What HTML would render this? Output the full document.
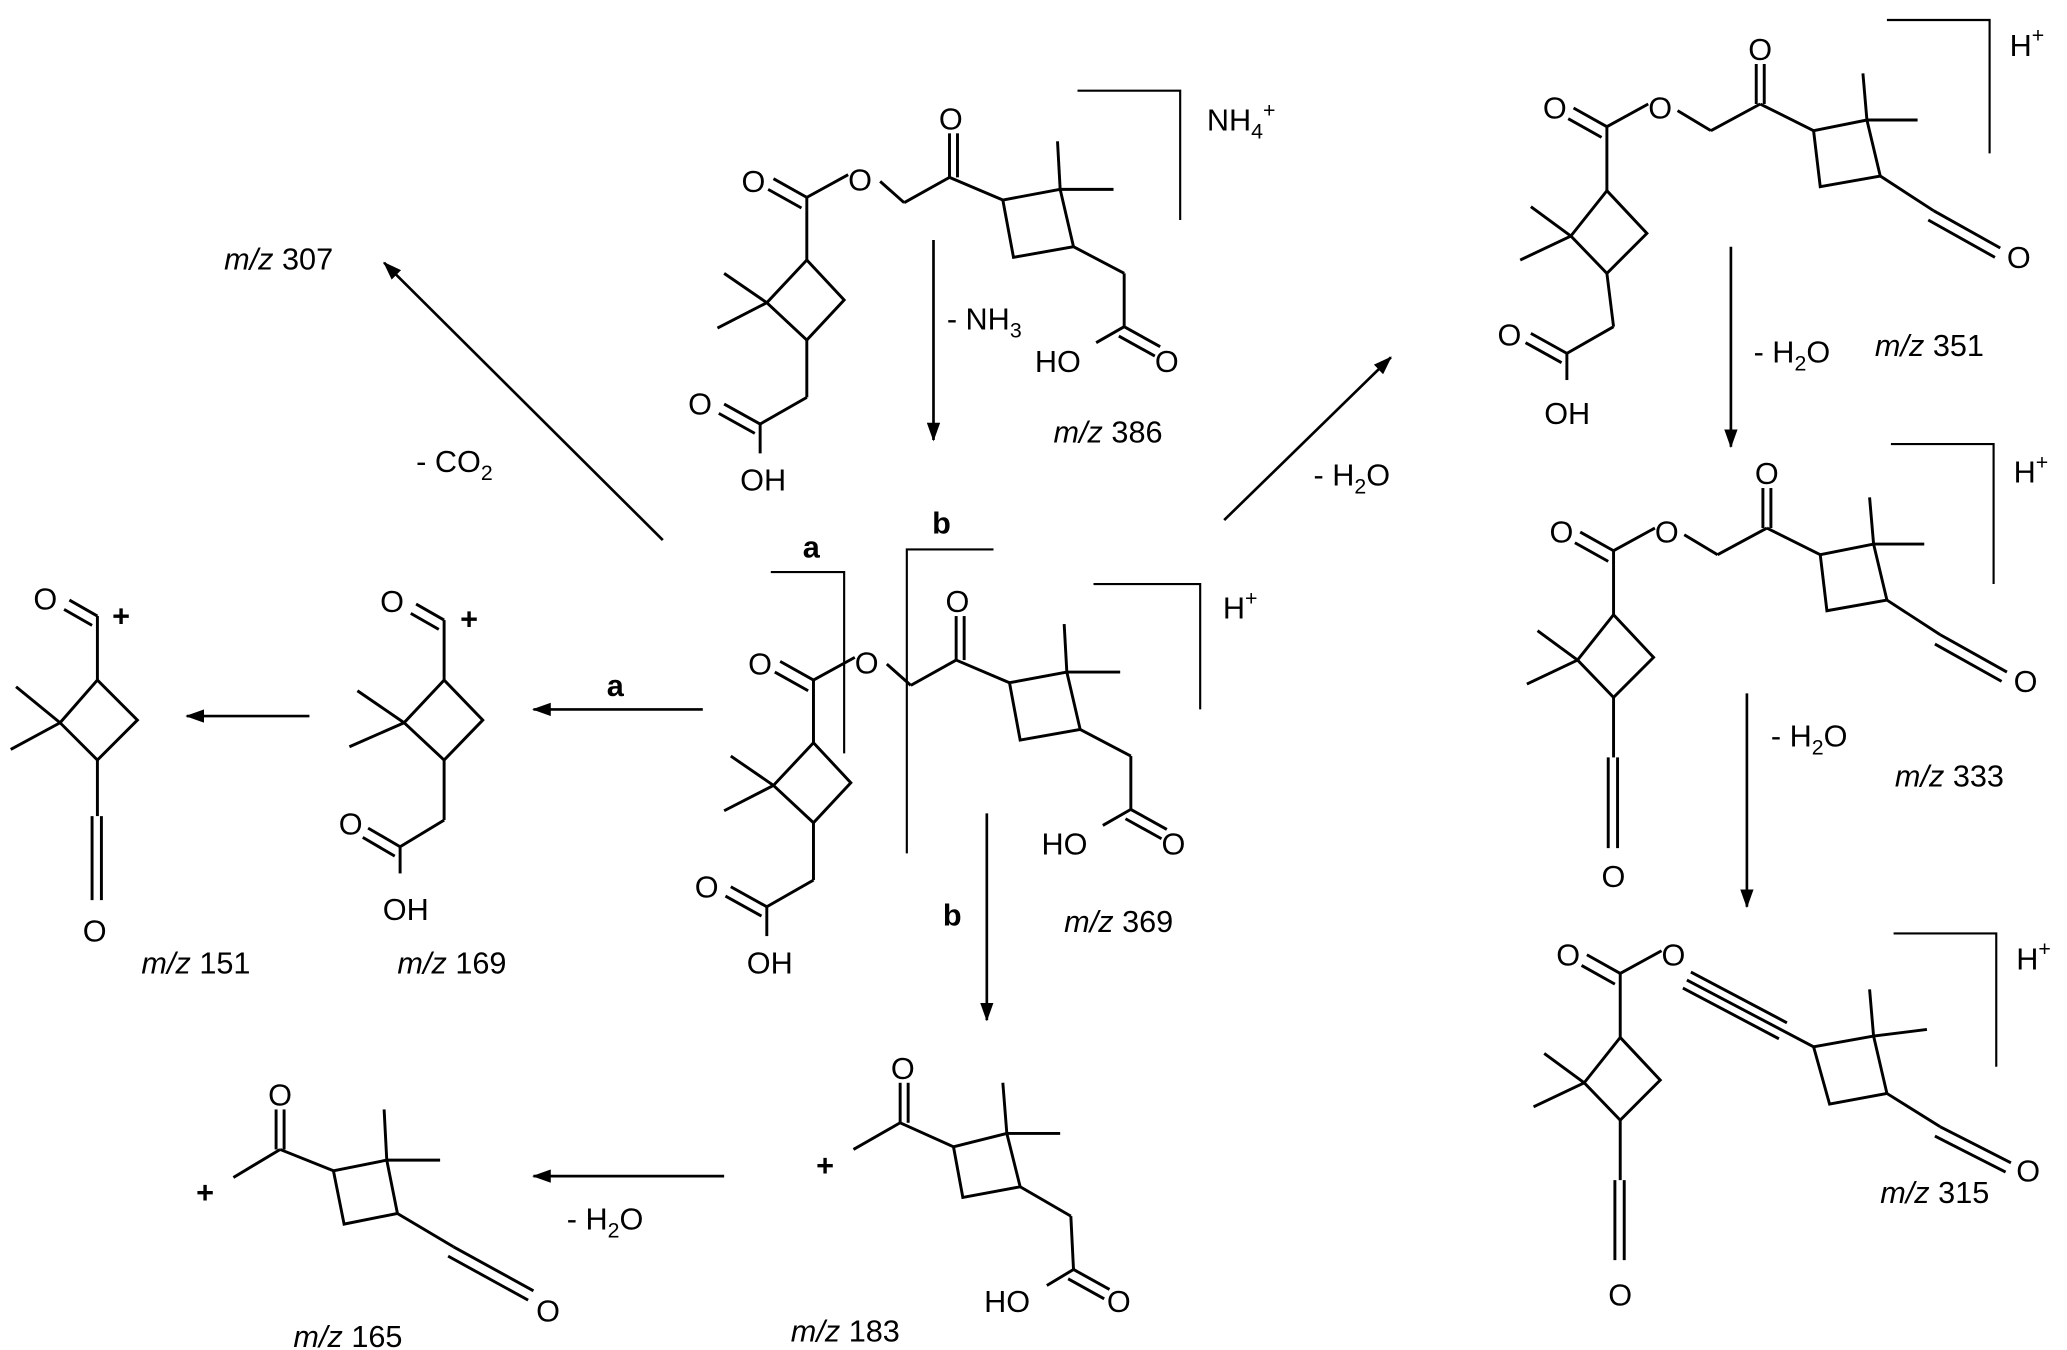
<!DOCTYPE html>
<html><head><meta charset="utf-8"><style>
html,body{margin:0;padding:0;background:#fff;}
svg{display:block;}
text{font-family:"Liberation Sans",Arial,sans-serif;font-size:23px;fill:#000;}
.b{font-weight:bold;}
</style></head><body>
<svg width="2067" height="1350" viewBox="0 0 1550 1012.4" xmlns="http://www.w3.org/2000/svg">
<defs>
<marker id="ar" markerWidth="14" markerHeight="10" refX="13" refY="5" orient="auto" markerUnits="userSpaceOnUse">
<path d="M0,0 L14,5 L0,10 z" fill="#000"/></marker>
<g id="mol" stroke="#000" stroke-width="2.2" fill="none">
<line x1="605" y1="148" x2="580" y2="134"/><line x1="601" y1="156" x2="576" y2="142"/>
<line x1="605" y1="148" x2="636" y2="131"/>
<line x1="660" y1="136" x2="678" y2="152"/><line x1="678" y1="152" x2="712" y2="133"/>
<line x1="712" y1="133" x2="712" y2="100"/><line x1="718" y1="133" x2="718" y2="100"/>
<line x1="712" y1="133" x2="752" y2="150"/>
<polygon points="752,150 795,142 805,185 760,193"/>
<line x1="795" y1="142" x2="793" y2="106"/><line x1="795" y1="142" x2="835" y2="142"/>
<line x1="805" y1="185" x2="843" y2="205"/><line x1="843" y1="205" x2="843" y2="245"/>
<line x1="843" y1="245" x2="870" y2="260"/><line x1="839" y1="252" x2="866" y2="267"/>
<line x1="843" y1="245" x2="822" y2="257"/>
<line x1="605" y1="148" x2="605" y2="195"/>
<polygon points="605,195 633,225 605,255 575,227"/>
<line x1="575" y1="227" x2="543" y2="205"/><line x1="575" y1="227" x2="538" y2="246"/>
<line x1="605" y1="255" x2="605" y2="298"/><line x1="605" y1="298" x2="570" y2="318"/>
<line x1="570" y1="318" x2="543" y2="303"/><line x1="566" y1="325" x2="539" y2="310"/>
<line x1="570" y1="318" x2="570" y2="340"/>
</g>
<g id="moltext">
<text x="556" y="144">O</text><text x="636" y="143">O</text><text x="704" y="97">O</text>
<text x="776" y="279">HO</text><text x="866" y="279">O</text>
<text x="516" y="311">O</text><text x="555" y="368">OH</text>
</g>
</defs>

<use href="#mol"/><use href="#moltext"/>
<polyline points="808,68 885,68 885,165" fill="none" stroke="#000" stroke-width="1.6"/>
<text x="905" y="98">NH<tspan font-size="16" dy="6">4</tspan><tspan font-size="16" dy="-16">+</tspan></text>
<text x="790" y="332"><tspan font-style="italic">m/z</tspan> 386</text>
<line x1="700" y1="180" x2="700" y2="330" stroke="#000" stroke-width="2" marker-end="url(#ar)"/>
<text x="710" y="247">- NH<tspan font-size="16" dy="6">3</tspan></text>

<g transform="translate(5,362)"><use href="#mol"/><use href="#moltext"/></g>
<polyline points="820,438 900,438 900,532" fill="none" stroke="#000" stroke-width="1.6"/>
<text x="917" y="464">H<tspan font-size="16" dy="-10">+</tspan></text>
<polyline points="578,429 633,429 633,565" fill="none" stroke="#000" stroke-width="1.6"/>
<polyline points="745,412 680,412 680,640" fill="none" stroke="#000" stroke-width="1.6"/>
<text x="602" y="418" class="b">a</text><text x="699" y="400" class="b">b</text>
<text x="798" y="699"><tspan font-style="italic">m/z</tspan> 369</text>

<line x1="497" y1="405" x2="288" y2="197" stroke="#000" stroke-width="2" marker-end="url(#ar)"/>
<text x="312" y="354">- CO<tspan font-size="16" dy="6">2</tspan></text>
<text x="168" y="202"><tspan font-style="italic">m/z</tspan> 307</text>
<line x1="527" y1="532" x2="400" y2="532" stroke="#000" stroke-width="2" marker-end="url(#ar)"/>
<text x="455" y="522" class="b">a</text>
<line x1="232" y1="537" x2="140" y2="537" stroke="#000" stroke-width="2" marker-end="url(#ar)"/>
<line x1="740" y1="610" x2="740" y2="765" stroke="#000" stroke-width="2" marker-end="url(#ar)"/>
<text x="707" y="694" class="b">b</text>
<line x1="918" y1="390" x2="1043" y2="268" stroke="#000" stroke-width="2" marker-end="url(#ar)"/>
<text x="985" y="364">- H<tspan font-size="16" dy="6">2</tspan><tspan dy="-6">O</tspan></text>
<line x1="543" y1="882" x2="400" y2="882" stroke="#000" stroke-width="2" marker-end="url(#ar)"/>
<text x="425" y="922">- H<tspan font-size="16" dy="6">2</tspan><tspan dy="-6">O</tspan></text>
<line x1="1298" y1="185" x2="1298" y2="335" stroke="#000" stroke-width="2" marker-end="url(#ar)"/>
<text x="1315" y="272">- H<tspan font-size="16" dy="6">2</tspan><tspan dy="-6">O</tspan></text>
<line x1="1310" y1="520" x2="1310" y2="680" stroke="#000" stroke-width="2" marker-end="url(#ar)"/>
<text x="1328" y="560">- H<tspan font-size="16" dy="6">2</tspan><tspan dy="-6">O</tspan></text>

<g stroke="#000" stroke-width="2.2" fill="none">
<line x1="1205" y1="95" x2="1180" y2="81"/><line x1="1201" y1="103" x2="1176" y2="89"/>
<line x1="1205" y1="95" x2="1236" y2="78"/><line x1="1258" y1="83" x2="1283" y2="98"/>
<line x1="1283" y1="98" x2="1320" y2="78"/><line x1="1317" y1="78" x2="1317" y2="48"/><line x1="1323" y1="78" x2="1323" y2="48"/>
<line x1="1320" y1="78" x2="1360" y2="98"/>
<polygon points="1360,98 1400,90 1410,132 1365,140"/>
<line x1="1400" y1="90" x2="1397" y2="55"/><line x1="1400" y1="90" x2="1438" y2="90"/>
<line x1="1410" y1="132" x2="1450" y2="158"/><line x1="1450" y1="158" x2="1500" y2="186"/><line x1="1446" y1="165" x2="1496" y2="193"/>
<line x1="1205" y1="95" x2="1205" y2="143"/>
<polygon points="1205,143 1235,175 1205,205 1178,177"/>
<line x1="1178" y1="177" x2="1148" y2="155"/><line x1="1178" y1="177" x2="1140" y2="195"/>
<line x1="1205" y1="205" x2="1210" y2="245"/><line x1="1210" y1="245" x2="1175" y2="265"/>
<line x1="1175" y1="265" x2="1148" y2="250"/><line x1="1171" y1="272" x2="1144" y2="257"/>
<line x1="1175" y1="265" x2="1175" y2="285"/>
<g transform="translate(5,318)">
<line x1="1205" y1="95" x2="1180" y2="81"/><line x1="1201" y1="103" x2="1176" y2="89"/>
<line x1="1205" y1="95" x2="1236" y2="78"/><line x1="1258" y1="83" x2="1283" y2="98"/>
<line x1="1283" y1="98" x2="1320" y2="78"/><line x1="1317" y1="78" x2="1317" y2="48"/><line x1="1323" y1="78" x2="1323" y2="48"/>
<line x1="1320" y1="78" x2="1360" y2="98"/>
<polygon points="1360,98 1400,90 1410,132 1365,140"/>
<line x1="1400" y1="90" x2="1397" y2="55"/><line x1="1400" y1="90" x2="1438" y2="90"/>
<line x1="1410" y1="132" x2="1450" y2="158"/><line x1="1450" y1="158" x2="1500" y2="186"/><line x1="1446" y1="165" x2="1496" y2="193"/>
<line x1="1205" y1="95" x2="1205" y2="143"/>
<polygon points="1205,143 1235,175 1205,205 1178,177"/>
<line x1="1178" y1="177" x2="1148" y2="155"/><line x1="1178" y1="177" x2="1140" y2="195"/>
<line x1="1205" y1="205" x2="1205" y2="250"/><line x1="1201" y1="250" x2="1201" y2="318"/><line x1="1208" y1="250" x2="1208" y2="318"/>
</g>
<g transform="translate(10,635)">
<line x1="1205" y1="95" x2="1180" y2="81"/><line x1="1201" y1="103" x2="1176" y2="89"/>
<line x1="1205" y1="95" x2="1236" y2="78"/>
<polygon points="1205,143 1235,175 1205,205 1178,177"/>
<line x1="1205" y1="95" x2="1205" y2="143"/>
<line x1="1178" y1="177" x2="1148" y2="155"/><line x1="1178" y1="177" x2="1140" y2="195"/>
<line x1="1205" y1="205" x2="1205" y2="250"/><line x1="1201" y1="250" x2="1201" y2="310"/><line x1="1208" y1="250" x2="1208" y2="310"/>
</g>
<line x1="1265" y1="735" x2="1360" y2="785"/><line x1="1268" y1="729" x2="1340" y2="767"/><line x1="1262" y1="741" x2="1334" y2="779"/>
<polygon points="1360,785 1405,777 1415,820 1372,828"/>
<line x1="1405" y1="777" x2="1402" y2="742"/><line x1="1405" y1="777" x2="1445" y2="772"/>
<line x1="1415" y1="820" x2="1455" y2="845"/><line x1="1455" y1="845" x2="1508" y2="872"/><line x1="1451" y1="852" x2="1504" y2="879"/>
<line x1="333" y1="465" x2="312" y2="453"/><line x1="329" y1="472" x2="308" y2="460"/>
<line x1="333" y1="465" x2="333" y2="510"/>
<polygon points="333,510 362,540 333,570 303,542"/>
<line x1="303" y1="542" x2="268" y2="518"/><line x1="303" y1="542" x2="262" y2="560"/>
<line x1="333" y1="570" x2="333" y2="615"/><line x1="333" y1="615" x2="300" y2="635"/>
<line x1="300" y1="635" x2="276" y2="621"/><line x1="296" y1="642" x2="272" y2="628"/>
<line x1="300" y1="635" x2="300" y2="655"/>
<line x1="73" y1="462" x2="52" y2="450"/><line x1="69" y1="469" x2="48" y2="457"/>
<line x1="73" y1="462" x2="73" y2="510"/>
<polygon points="73,510 103,540 73,570 45,542"/>
<line x1="45" y1="542" x2="12" y2="515"/><line x1="45" y1="542" x2="8" y2="562"/>
<line x1="73" y1="570" x2="73" y2="612"/><line x1="69" y1="612" x2="69" y2="675"/><line x1="76" y1="612" x2="76" y2="675"/>
<line x1="640" y1="862" x2="675" y2="842"/>
<line x1="675" y1="842" x2="675" y2="812"/><line x1="681" y1="842" x2="681" y2="812"/>
<line x1="675" y1="842" x2="715" y2="860"/>
<polygon points="715,860 755,850 765,890 722,898"/>
<line x1="755" y1="850" x2="752" y2="812"/><line x1="755" y1="850" x2="795" y2="850"/>
<line x1="765" y1="890" x2="803" y2="912"/><line x1="803" y1="912" x2="805" y2="952"/>
<line x1="805" y1="952" x2="832" y2="967"/><line x1="801" y1="959" x2="828" y2="974"/>
<line x1="805" y1="952" x2="785" y2="964"/>
<line x1="175" y1="883" x2="210" y2="862"/>
<line x1="207" y1="862" x2="207" y2="832"/><line x1="213" y1="862" x2="213" y2="832"/>
<line x1="210" y1="862" x2="250" y2="878"/>
<polygon points="250,878 290,870 298,910 258,918"/>
<line x1="290" y1="870" x2="288" y2="832"/><line x1="290" y1="870" x2="330" y2="870"/>
<line x1="298" y1="910" x2="340" y2="935"/><line x1="340" y1="935" x2="400" y2="968"/><line x1="336" y1="942" x2="396" y2="975"/>
</g>
<g fill="none" stroke="#000" stroke-width="1.6">
<polyline points="1415,15 1492,15 1492,115"/>
<polyline points="1418,333 1495,333 1495,438"/>
<polyline points="1420,700 1497,700 1497,800"/>
</g>
<text x="1157" y="89">O</text><text x="1236" y="89">O</text><text x="1311" y="45">O</text><text x="1505" y="201">O</text>
<text x="1123" y="259">O</text><text x="1158" y="318">OH</text>
<text x="1507" y="42">H<tspan font-size="16" dy="-10">+</tspan></text>
<text x="1406" y="267"><tspan font-style="italic">m/z</tspan> 351</text>
<text x="1162" y="407">O</text><text x="1241" y="407">O</text><text x="1316" y="363">O</text><text x="1510" y="519">O</text>
<text x="1201" y="665">O</text>
<text x="1510" y="362">H<tspan font-size="16" dy="-10">+</tspan></text>
<text x="1421" y="590"><tspan font-style="italic">m/z</tspan> 333</text>
<text x="1167" y="724">O</text><text x="1246" y="724">O</text><text x="1512" y="886">O</text>
<text x="1206" y="979">O</text>
<text x="1512" y="727">H<tspan font-size="16" dy="-10">+</tspan></text>
<text x="1410" y="902"><tspan font-style="italic">m/z</tspan> 315</text>
<text x="285" y="459">O</text><text x="345" y="472" class="b" font-size="26">+</text>
<text x="254" y="626">O</text><text x="287" y="690">OH</text>
<text x="298" y="730"><tspan font-style="italic">m/z</tspan> 169</text>
<text x="25" y="457">O</text><text x="84" y="470" class="b" font-size="26">+</text>
<text x="62" y="706">O</text>
<text x="106" y="730"><tspan font-style="italic">m/z</tspan> 151</text>
<text x="612" y="882" class="b" font-size="26">+</text>
<text x="668" y="809">O</text>
<text x="738" y="984">HO</text><text x="830" y="984">O</text>
<text x="593" y="1006"><tspan font-style="italic">m/z</tspan> 183</text>
<text x="147" y="902" class="b" font-size="26">+</text>
<text x="201" y="829">O</text><text x="402" y="991">O</text>
<text x="220" y="1010"><tspan font-style="italic">m/z</tspan> 165</text>
</svg>
</body></html>
